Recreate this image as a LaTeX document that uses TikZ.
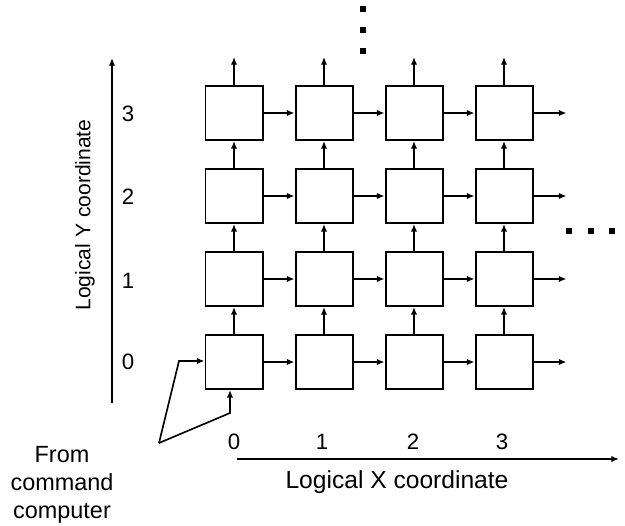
\documentclass[tikz,border=0pt]{standalone}
\usepackage{fontspec}
\setmainfont{Liberation Sans}
\usetikzlibrary{arrows.meta,positioning,calc}

\begin{document}
\begin{tikzpicture}[x=0.03cm,y=-0.03cm,>={Latex[length=6.5pt,width=5.5pt]},every node/.style={font=\fontsize{18}{23}\selectfont}]
\tikzset{pe/.style={draw,line width=1.7pt,minimum width=1.71cm,minimum height=1.62cm,inner sep=0pt},
link/.style={->,line width=1.4pt}}
\useasboundingbox (0,0) rectangle (625,525);
% mesh of processing elements
\foreach \i in {0,...,3}{
\foreach \j in {0,...,3}{
\node[pe](c\i\j) at (234+90*\i,362-83*\j){};
}}
\foreach \j in {0,...,3}{
\coordinate (r\j) at ($(c3\j.east)+(33,0)$);
\foreach \i/\n in {0/1,1/2,2/3} \draw[link](c\i\j)--(c\n\j);
\draw[link](c3\j.east)--(r\j);
}
\foreach \i in {0,...,3}{
\coordinate (t\i) at ($(c\i3.north)+(0,-28)$);
\foreach \j/\n in {0/1,1/2,2/3} \draw[link](c\i\j)--(c\i\n);
\draw[link](c\i3.north)--(t\i);
}
% input from the command computer
\coordinate (in1) at (179,361); \coordinate (fork) at (159,443); \coordinate (in2) at (230,413);
\draw[link](fork)--(in1)--(in1 -| c00.west);
\draw[link](fork)--(in2)--(in2 |- c00.south);
\node[align=center,font=\fontsize{20}{24}\selectfont](cmd) at (62,485){From\\command\\computer};
% axes
\coordinate (xo) at (237,459); \coordinate (xe) at (619,459);
\coordinate (yo) at (112,403); \coordinate (ye) at (112,58);
\draw[link](xo)--(xe); \draw[link](yo)--(ye);
\node[font=\fontsize{21}{25}\selectfont](xlab) at (397,482){Logical X coordinate};
\node[rotate=90](ylab) at (85,215){Logical Y coordinate};
\foreach \k/\x in {0/234,1/322,2/413,3/502} \node[font=\fontsize{19}{23}\selectfont](x\k) at (\x,442){\k};
\foreach \k/\y in {0/362,1/281,2/197,3/114} \node[font=\fontsize{19}{23}\selectfont](y\k) at (128,\y){\k};
% more rows and columns
\foreach \y in {9,30,51} \fill (363,\y) +(-3,-3) rectangle +(3,3);
\foreach \x in {569,591,612} \fill (\x,231) +(-3,-3) rectangle +(3,3);
\end{tikzpicture}
\end{document}
